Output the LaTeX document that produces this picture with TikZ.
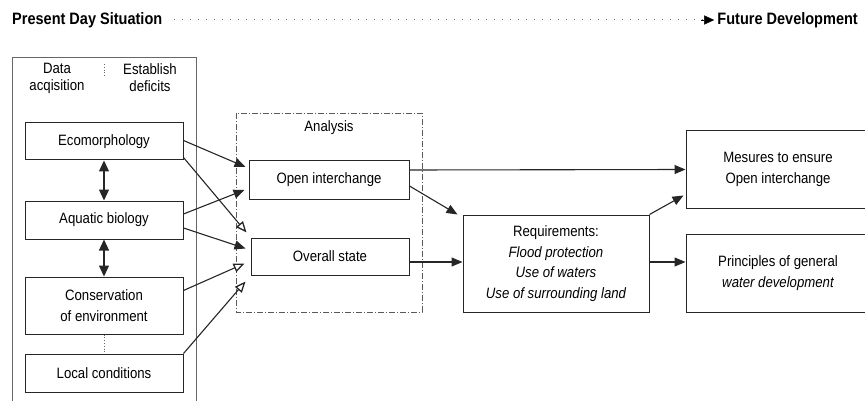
\documentclass[tikz,border=0pt]{standalone}
\usepackage{fontspec}
\setmainfont{Liberation Sans}[FakeStretch=0.88]
\usetikzlibrary{arrows.meta,calc}

\tikzset{
  txt/.style={font=\fontsize{15}{20.5}\selectfont, align=center},
  box/.style={txt, draw=black!85, line width=1pt, inner sep=0pt},
  leftbox/.style={box, minimum width=158pt},
  conn/.style={draw=black!85, line width=1.1pt, -{Triangle[length=11pt,width=9pt]}},
  connopen/.style={draw=black!85, line width=1.1pt, -{Triangle[open,length=11pt,width=9pt,fill=white,line width=1.3pt]}},
  twoway/.style={draw=black!85, line width=1.1pt, {Triangle[length=11pt,width=10pt]}-{Triangle[length=11pt,width=10pt]}},
  frame/.style={draw=black!60, line width=0.9pt},
  title/.style={font=\fontsize{16.5}{19}\selectfont\bfseries, inner sep=0pt}
}

\begin{document}
\begin{tikzpicture}[x=1pt,y=-1pt]
\useasboundingbox (0,0) rectangle (865,401);
\clip (0,0) rectangle (865,401);

% heading: present day -> future
\node[title, anchor=west] (present) at (12,20) {Present Day Situation};
\node[title, anchor=east] (future) at (858,20) {Future Development};
\draw[black!55, line width=1pt, dash pattern=on 1pt off 7pt] (present.east) ++(12,0) coordinate (tl) -- ($(future.west)+(-14,0)$) coordinate (tr);
\draw[black, -{Triangle[length=10pt,width=9pt]}] ($(tr)+(-2,0)$) -- ($(future.west)+(-3,0)$);

% left column frame (open at the bottom)
\draw[frame] (12,401) -- (12,57) -- (196,57) -- (196,401);
\node[txt, font=\fontsize{15}{17}\selectfont] (acq) at (57,78) {Data\\acqisition};
\node[txt, font=\fontsize{15}{17}\selectfont] (def) at (150,78) {Establish\\deficits};
\draw[black!60, line width=0.8pt, dotted] (104,64) -- (104,76);

% data acquisition boxes
\node[leftbox, minimum height=37pt] (eco) at (104,141.5) {Ecomorphology};
\node[leftbox, minimum height=38pt] (aqua) at (104,220) {Aquatic biology};
\node[leftbox, minimum height=57pt] (cons) at (104,305.5) {Conservation\\of environment};
\node[leftbox, minimum height=38pt] (local) at (104,373) {Local conditions};

\draw[twoway] (eco.south) -- (aqua.north);
\draw[twoway] (aqua.south) -- (cons.north);
\draw[black!60, line width=0.8pt, dotted] (cons.south) -- (local.north);

% analysis group
\draw[black!65, line width=0.9pt, dash pattern=on 6pt off 2pt on 1pt off 2pt] (236,113) rectangle (422,312);
\node[txt] (analysis) at (329,128) {Analysis};
\node[box, minimum width=160pt, minimum height=38pt] (open) at (329,180) {Open interchange};
\node[box, minimum width=158pt, minimum height=37pt] (overall) at (330,256.5) {Overall state};

% requirements and outcomes
\node[box, minimum width=186pt, minimum height=97pt] (req) at (556,263.5)
  {Requirements:\\\itshape Flood protection\\\itshape Use of waters\\\itshape Use of surrounding land};
\node[box, minimum width=184pt, minimum height=77pt] (mes) at (778,169.5) {Mesures to ensure\\Open interchange};
\node[box, minimum width=184pt, minimum height=78pt] (prin) at (778,273) {Principles of general\\\itshape water development};

% inputs to the analysis
\draw[conn] ($(eco.east)+(0,-1)$) -- ($(open.west)+(-3,-13)$);
\draw[connopen] ($(eco.south east)+(0,-3)$) -- ($(overall.north west)+(-4,-5)$);
\draw[conn] ($(aqua.east)+(0,-6)$) -- ($(open.west)+(-4,10)$);
\draw[conn] ($(aqua.east)+(0,8)$) -- ($(overall.west)+(-5,-8)$);
\draw[connopen] ($(cons.east)+(0,-15)$) -- ($(overall.west)+(-6,7)$);
\draw[connopen] (local.north east) -- ($(overall.west)+(-5,25)$);

% analysis to requirements and measures
\draw[conn] ($(open.east)+(0,-10)$) -- (mes.west);
\draw[conn] ($(open.east)+(0,6)$) -- ($(req.north west)+(-5,0)$);
\draw[conn] ($(overall.east)+(0,5.5)$) -- ($(req.west)+(0,-1.5)$);
\draw[conn] (req.north east) -- ($(mes.south west)+(-2,-13)$);
\draw[conn] ($(req.east)+(0,-1.5)$) -- ($(prin.west)+(0,-11)$);
\end{tikzpicture}
\end{document}
